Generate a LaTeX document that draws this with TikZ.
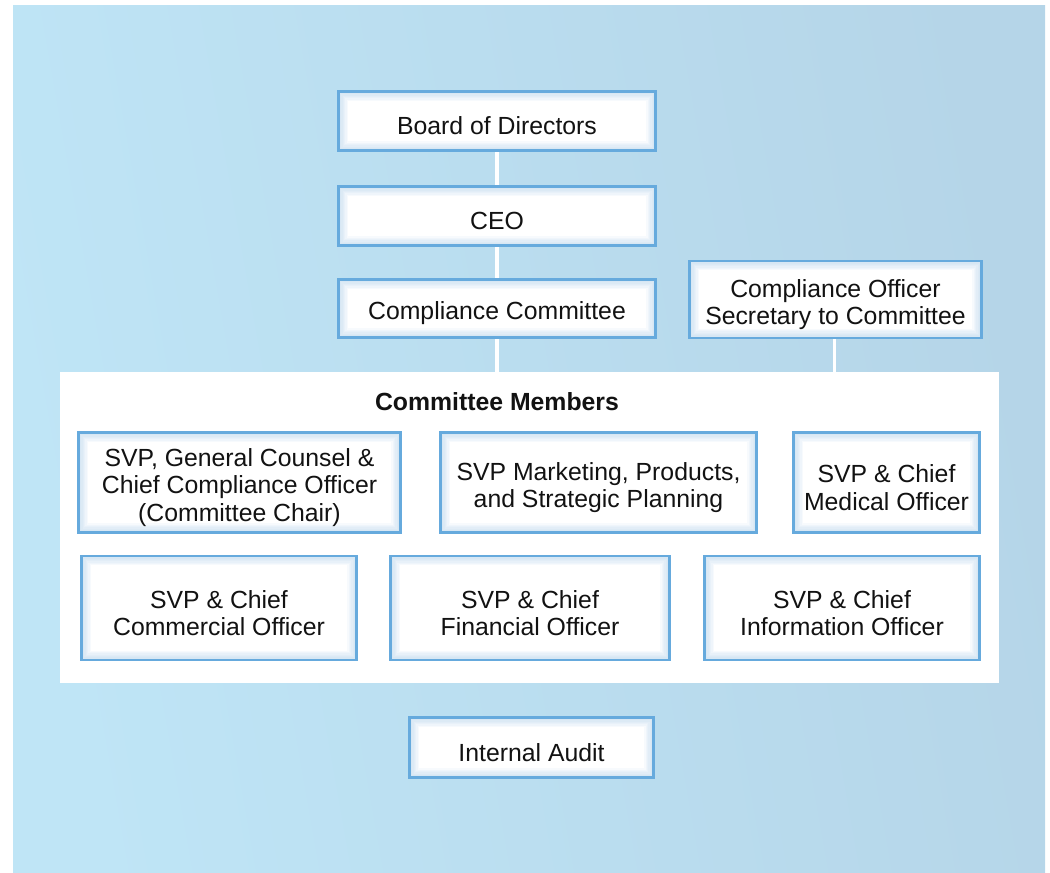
\documentclass[tikz,border=0pt]{standalone}
\usepackage{fontspec}
\setmainfont{Liberation Sans}
\usetikzlibrary{backgrounds}
\definecolor{bgleft}{HTML}{BFE5F6}
\definecolor{bgright}{HTML}{B5D5E8}
\definecolor{boxline}{HTML}{66AADD}
\definecolor{glow}{HTML}{A9CDEB}
\definecolor{txt}{HTML}{121212}
\newcommand\firstlinestrut{\rule{0pt}{21pt}}
\tikzset{
  orgbox/.style={rectangle, draw=boxline, line width=2.2pt, fill=white,
    align=center, text=txt, inner sep=0pt,
    font=\fontsize{18.6pt}{20.6pt}\selectfont,
    execute at begin node={\firstlinestrut},
    path picture={
      \foreach \w in {2,4,...,14}{
        \draw[glow, opacity=0.09, line width=\w pt]
          (path picture bounding box.south west) rectangle (path picture bounding box.north east);
      }
    }},
  conn/.style={draw=white, line width=2.3pt},
  paneltitle/.style={font=\fontsize{18.6pt}{20.6pt}\selectfont\bfseries, text=txt}
}
\begin{document}
\begin{tikzpicture}[x=0.75pt,y=-0.75pt]
\useasboundingbox (0,0) rectangle (1050,872);
% panel
\node[fill=white, minimum width=704.25pt, minimum height=233.25pt, inner sep=0pt] (panel) at (529.5,527.5) {};
\node[paneltitle] (title) at (497,402) {Committee Members};
% top chain
\node[orgbox, minimum width=237.75pt, minimum height=44.25pt] (board) at (497,121) {Board of Directors};
\node[orgbox, minimum width=237.75pt, minimum height=44.25pt] (ceo) at (497,216) {CEO};
\node[orgbox, minimum width=237.75pt, minimum height=43.5pt] (cc) at (497,308.5) {Compliance Committee};
\node[orgbox, minimum width=219pt, minimum height=57.75pt] (co) at (835.5,299.5) {\firstlinestrut Compliance Officer\\Secretary to Committee};
% members row 1
\node[orgbox, minimum width=241.5pt, minimum height=75pt] (m1) at (239.5,482.5) {\firstlinestrut SVP, General Counsel \&\\Chief Compliance Officer\\(Committee Chair)};
\node[orgbox, minimum width=237pt, minimum height=75pt] (m2) at (598.5,482.5) {\firstlinestrut SVP Marketing, Products,\\and Strategic Planning};
\node[orgbox, minimum width=139.5pt, minimum height=75pt] (m3) at (886.5,482.5) {\firstlinestrut SVP \& Chief\\Medical Officer};
% members row 2
\node[orgbox, minimum width=206.25pt, minimum height=78pt] (m4) at (219,608) {\firstlinestrut SVP \& Chief\\Commercial Officer};
\node[orgbox, minimum width=209.25pt, minimum height=78pt] (m5) at (530,608) {\firstlinestrut SVP \& Chief\\Financial Officer};
\node[orgbox, minimum width=206.25pt, minimum height=78pt] (m6) at (842,608) {\firstlinestrut SVP \& Chief\\Information Officer};
% internal audit
\node[orgbox, minimum width=183pt, minimum height=45pt] (ia) at (531.5,747.5) {Internal Audit};
\begin{scope}[on background layer]
  \shade[left color=bgleft, right color=bgright, shading angle=100] (13,5) rectangle (1045,872);
  \draw[conn] (board.south) -- (ceo.north);
  \draw[conn] (ceo.south) -- (cc.north);
  \draw[conn] (cc.south) -- (cc.south |- panel.north);
  \coordinate (cofoot) at ([xshift=-1pt]co.south);
  \draw[conn] (cofoot) -- (cofoot |- panel.north);
\end{scope}
\end{tikzpicture}
\end{document}
